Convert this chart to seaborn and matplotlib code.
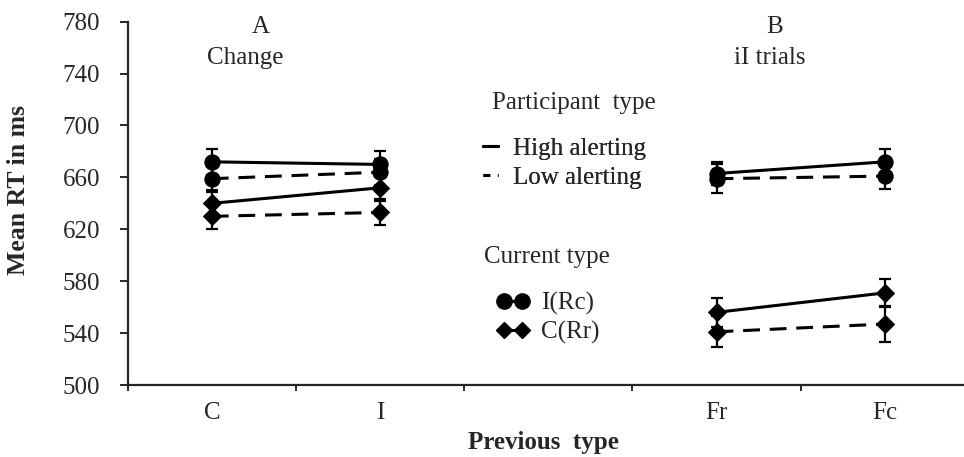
import numpy as np
import pandas as pd
import matplotlib
matplotlib.use("Agg")
import matplotlib.pyplot as plt
from matplotlib.lines import Line2D
import seaborn as sns

# ---------------- data ----------------
categories = ["C", "I", "", "Fr", "Fc"]
panel_A = ["C", "I"]
panel_B = ["Fr", "Fc"]
point_cats = ["C", "I", "Fr", "Fc"]

high_irc = [672, 670, 663, 672]
low_irc = [659, 664, 659, 661]
high_crr = [640, 652, 556, 571]
low_crr = [630, 633, 541, 547]

high_irc_err = [10, 10, 9, 10]
low_irc_err = [10, 10, 11, 10]
high_crr_err = [10, 10, 11, 11]
low_crr_err = [10, 10, 12, 14]

participants = ["High alerting", "Low alerting"]
currents = ["I(Rc)", "C(Rr)"]

rows = []
for part, cur, vals, errs in [
    ("High alerting", "I(Rc)", high_irc, high_irc_err),
    ("Low alerting", "I(Rc)", low_irc, low_irc_err),
    ("High alerting", "C(Rr)", high_crr, high_crr_err),
    ("Low alerting", "C(Rr)", low_crr, low_crr_err),
]:
    for cat, v, e in zip(point_cats, vals, errs):
        rows.append(dict(cat=cat, pos=categories.index(cat), participant=part,
                         current=cur, series=f"{part}|{cur}", rt=v, err=e,
                         panel="A" if cat in panel_A else "B"))
df = pd.DataFrame(rows)

# ---------------- style ----------------
sns.set_style("ticks")
plt.rcParams["font.family"] = ["Liberation Serif", "DejaVu Serif"]
plt.rcParams["axes.linewidth"] = 1.6

W, H = 964, 457
FS = 18
fig = plt.figure(figsize=(W / 100, H / 100), dpi=100)
ax = fig.add_axes([127.7 / W, (H - 385) / H, (969 - 127.7) / W, 363.3 / H])

marker_map = {"I(Rc)": "o", "C(Rr)": "D"}
dash_map = {"High alerting": "", "Low alerting": (5.5, 3.2)}
markers = {f"{p}|{c}": marker_map[c] for p in participants for c in currents}
dashes = {f"{p}|{c}": dash_map[p] for p in participants for c in currents}
sizes = {"o": 11, "D": 9}

# error bars (beneath markers)
ax.errorbar(df["pos"], df["rt"], yerr=df["err"], fmt="none", ecolor="black",
            elinewidth=1.6, capsize=4.5, capthick=1.6, zorder=2)

for panel in ["A", "B"]:
    sub = df[df["panel"] == panel]
    for cur in currents:
        s2 = sub[sub["current"] == cur]
        sns.lineplot(data=s2, x="pos", y="rt", style="series",
                     markers={k: v for k, v in markers.items() if k.endswith(cur)},
                     dashes={k: v for k, v in dashes.items() if k.endswith(cur)},
                     color="black", markeredgecolor="black",
                     markersize=sizes[marker_map[cur]], linewidth=2.2,
                     legend=False, errorbar=None, ax=ax, zorder=3)

# ---------------- axes ----------------
ax.set_ylim(500, 780)
ax.set_yticks(np.arange(500, 781, 40))
ax.set_xlim(-0.5, len(categories) - 0.5)
ax.set_xticks([categories.index(c) for c in point_cats])
ax.set_xticklabels(point_cats)
ax.set_xticks(np.arange(-0.5, len(categories), 1.0), minor=True)
ax.tick_params(axis="x", which="major", length=0, pad=12.5, labelsize=FS)
ax.tick_params(axis="x", which="minor", length=4, width=1.4, direction="out")
ax.tick_params(axis="y", length=6, width=1.4, direction="out", labelsize=FS, pad=14)
for s in ["top", "right"]:
    ax.spines[s].set_visible(False)

ax.set_ylabel("Mean RT in ms", fontsize=18.5, fontweight="bold")
ax.yaxis.set_label_coords(-(127.7 - 19) / (969 - 127.7), (385 - 190) / 363.3)
ax.yaxis.label.set_va("center")
ax.set_xlabel("Previous  type", fontsize=FS, fontweight="bold")
ax.xaxis.set_label_coords((543 - 127.7) / (969 - 127.7), -(442 - 385) / 363.3)
ax.xaxis.label.set_va("center")

# panel titles
fig.text(261 / W, 1 - 27 / H, "A", ha="center", va="center", fontsize=FS)
fig.text(245 / W, 1 - 58 / H, "Change", ha="center", va="center", fontsize=FS)
fig.text(775 / W, 1 - 27 / H, "B", ha="center", va="center", fontsize=FS)
fig.text(770 / W, 1 - 58 / H, "iI trials", ha="center", va="center", fontsize=FS)

# legend titles
fig.text(574 / W, 1 - 103 / H, "Participant  type", ha="center", va="center", fontsize=FS)
fig.text(547 / W, 1 - 257 / H, "Current type", ha="center", va="center", fontsize=FS)

# legends
h_part = [Line2D([], [], color="black", lw=2.2, linestyle="-"),
          Line2D([], [], color="black", lw=2.2, dashes=(2.2, 2.5))]
leg1 = fig.legend(h_part, participants,
                  loc="upper left", bbox_to_anchor=(483 / W, 1 - 137 / H),
                  frameon=False, fontsize=FS, borderpad=0, borderaxespad=0,
                  handlelength=0.6, handletextpad=0.6, labelspacing=0.27)
h_cur = [Line2D([], [], color="black", lw=2.2, marker="o", markersize=11),
         Line2D([], [], color="black", lw=2.2, marker="D", markersize=8)]
leg2 = fig.legend(h_cur, currents, numpoints=2,
                  loc="upper left", bbox_to_anchor=(497 / W, 1 - 292 / H),
                  frameon=False, fontsize=FS, borderpad=0, borderaxespad=0,
                  handlelength=1.28, handletextpad=0.5, labelspacing=0.25)
fig.add_artist(leg1)

fig.savefig("out.png", dpi=100)
